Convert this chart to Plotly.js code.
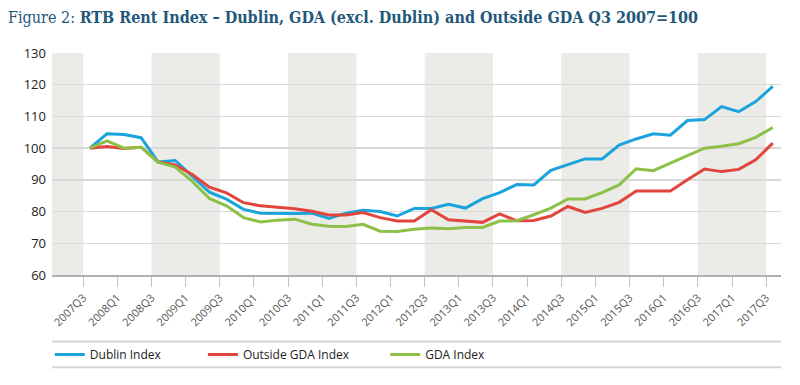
<!DOCTYPE html>
<html>
<head>
<meta charset="utf-8">
<script src="https://cdn.plot.ly/plotly-3.0.1.min.js"></script>
<style>
  html, body { margin: 0; padding: 0; background: #ffffff; }
  #chart { width: 800px; height: 385px; }
</style>
</head>
<body>
<div id="chart"></div>
<script>
// ---- Data ----
const quarters = [
  "2007Q3","2007Q4","2008Q1","2008Q2","2008Q3","2008Q4","2009Q1","2009Q2","2009Q3","2009Q4",
  "2010Q1","2010Q2","2010Q3","2010Q4","2011Q1","2011Q2","2011Q3","2011Q4","2012Q1","2012Q2",
  "2012Q3","2012Q4","2013Q1","2013Q2","2013Q3","2013Q4","2014Q1","2014Q2","2014Q3","2014Q4",
  "2015Q1","2015Q2","2015Q3","2015Q4","2016Q1","2016Q2","2016Q3","2016Q4","2017Q1","2017Q2",
  "2017Q3"
];
const dublinIndex = [
  100, 104.5, 104.3, 103.3, 95.6, 96.1, 91.1, 86.1, 83.9, 80.7,
  79.5, 79.4, 79.4, 79.5, 77.8, 79.5, 80.4, 80.0, 78.6, 81.0,
  81.0, 82.3, 81.1, 84.1, 86.0, 88.5, 88.4, 93.0, 94.9, 96.6,
  96.6, 101.0, 102.9, 104.5, 104.1, 108.7, 109.0, 113.1, 111.5, 114.7,
  119.5
];
const outsideGdaIndex = [
  100, 100.5, 99.9, 100.3, 95.6, 94.7, 91.7, 87.7, 85.9, 82.8,
  81.8, 81.4, 80.9, 80.1, 78.9, 78.9, 79.7, 78.1, 77.0, 77.0,
  80.6, 77.4, 76.9, 76.6, 79.3, 77.1, 77.2, 78.6, 81.6, 79.7,
  81.0, 82.9, 86.5, 86.5, 86.5, 90.0, 93.4, 92.6, 93.3, 96.3,
  101.6
];
const gdaIndex = [
  100, 102.3, 100.0, 100.3, 95.6, 94.0, 89.5, 84.1, 81.8, 78.1,
  76.7, 77.3, 77.6, 76.0, 75.4, 75.3, 76.0, 73.8, 73.7, 74.4,
  74.8, 74.6, 75.0, 75.0, 77.0, 77.1, 79.0, 81.1, 84.0, 84.0,
  86.0, 88.4, 93.5, 92.9, 95.3, 97.6, 100.0, 100.6, 101.4, 103.4,
  106.5
];
const seriesNames = ["Dublin Index", "Outside GDA Index", "GDA Index"];
const yTicks = [60, 70, 80, 90, 100, 110, 120, 130];

// ---- Styling ----
const colors = ["#1ba3dd", "#e2453d", "#8dc046"];
const POINT_SHIFT = 0.39;   // lines sit slightly right of the tick marks
const idx = quarters.map((q, i) => i);
const xData = idx.map(i => i + POINT_SHIFT);
const tickIdx = idx.filter(i => i % 2 === 0);

// shaded bands: alternate 4-quarter blocks (year Q3 to next Q3)
const shapes = [];
for (let s = -4; s < quarters.length; s += 8) {
  shapes.push({
    type: "rect", xref: "x", yref: "paper",
    x0: s, x1: s + 4, y0: 0, y1: 1,
    fillcolor: "#ebebe8", line: { width: 0 }, layer: "below"
  });
}
// rules above and below the legend
[-0.30, -0.415].forEach(yy => shapes.push({
  type: "line", xref: "paper", yref: "paper",
  x0: 0, x1: 1, y0: yy, y1: yy,
  line: { color: "#d4d4d4", width: 2 }
}));

const legendNames = ["legend", "legend2", "legend3"];
const series = [dublinIndex, outsideGdaIndex, gdaIndex];
const traces = series.map((vals, k) => ({
  type: "scatter", mode: "lines",
  x: xData, y: vals, name: seriesNames[k],
  line: { color: colors[k], width: 3 },
  legend: legendNames[k],
  hoverinfo: "x+y"
}));

const legendFont = { family: "Open Sans, sans-serif", size: 12, color: "#222" };
const legendBase = { orientation: "h", yref: "paper", y: -0.358, yanchor: "middle",
  xanchor: "left", bgcolor: "rgba(0,0,0,0)", font: legendFont, borderwidth: 0 };

const layout = {
  width: 800, height: 385,
  margin: { l: 52, r: 19, t: 53, b: 110 },
  paper_bgcolor: "#ffffff", plot_bgcolor: "rgba(0,0,0,0)",
  title: {
    text: "<span style='font-weight:normal'>Figure 2: </span><b>RTB Rent Index – Dublin, GDA (excl. Dublin) and Outside GDA Q3 2007=100</b>",
    font: { family: "DejaVu Serif Condensed, DejaVu Serif, serif", size: 16, color: "#1f587a" },
    x: 8 / 800, xref: "container", xanchor: "left",
    y: 1 - 17 / 385, yref: "container", yanchor: "middle"
  },
  xaxis: {
    range: [-1.83, 40.87],
    tickmode: "array",
    tickvals: tickIdx,
    ticktext: tickIdx.map(i => quarters[i]),
    tickangle: -45,
    ticks: "outside", ticklen: 10, tickwidth: 1, tickcolor: "#c4c4c4",
    showgrid: false, zeroline: false,
    showline: true, linecolor: "#b0b0b0", linewidth: 2,
    tickfont: { family: "Open Sans, sans-serif", size: 11, color: "#555" },
    fixedrange: true
  },
  yaxis: {
    range: [60, 130],
    tickmode: "array", tickvals: yTicks,
    showgrid: true, gridcolor: "#d9d9d9", gridwidth: 1.5,
    zeroline: false, showline: false, ticks: "",
    ticklabelstandoff: 5,
    tickfont: { family: "Open Sans, sans-serif", size: 13, color: "#222" },
    fixedrange: true
  },
  shapes: shapes,
  showlegend: true,
  legend: Object.assign({}, legendBase, { x: -0.003 }),
  legend2: Object.assign({}, legendBase, { x: 0.207 }),
  legend3: Object.assign({}, legendBase, { x: 0.457 })
};

Plotly.newPlot("chart", traces, layout, { displayModeBar: false, staticPlot: true });
</script>
</body>
</html>
